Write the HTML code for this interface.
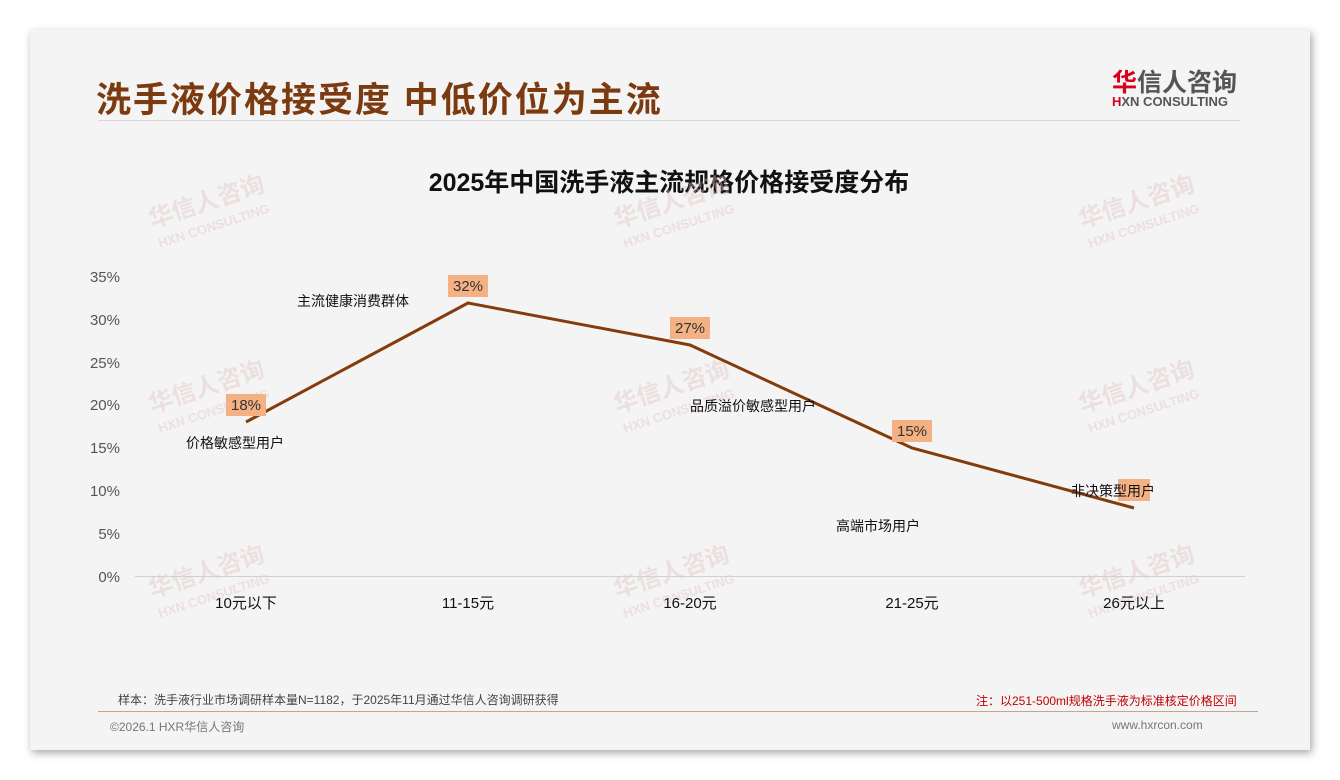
<!DOCTYPE html>
<html><head><meta charset="utf-8"><style>
body{margin:0;width:1340px;height:780px;background:#fff;position:relative;overflow:hidden;font-family:"Liberation Sans","Noto Sans CJK SC",sans-serif}
.card{position:absolute;left:30px;top:30px;width:1280px;height:720px;background:#f4f4f4;box-shadow:2px 3px 8px rgba(0,0,0,.35)}
.t{position:absolute;white-space:nowrap}
</style></head><body>
<div class="card"></div>
<div class="t" style="left:96px;top:72px;font-size:35px;font-weight:bold;color:#7b3a0f;letter-spacing:2px">洗手液价格接受度 中低价位为主流</div>
<div style="position:absolute;left:98px;top:120px;width:1142px;height:1px;background:#d8d8d8"></div>
<div class="t" style="left:1112px;top:63px;font-size:25px;font-weight:bold;color:#555"><span style="color:#d9001b">华</span>信人咨询</div>
<div class="t" style="left:1112px;top:94px;font-size:13px;font-weight:bold;color:#555"><span style="color:#d9001b">H</span>XN CONSULTING</div>
<div class="t" style="left:0;width:1338px;text-align:center;top:163px;font-size:25px;font-weight:bold;color:#111">2025年中国洗手液主流规格价格接受度分布</div>
<svg style="position:absolute;left:0;top:0" width="1340" height="780" font-family="Liberation Sans, Noto Sans CJK SC, sans-serif">
<g fill="#e0c0c0" opacity="0.4" font-weight="bold">
<g font-size="24">
<text transform="translate(152,228) rotate(-18)">华信人咨询</text>
<text transform="translate(617,228) rotate(-18)">华信人咨询</text>
<text transform="translate(1082,228) rotate(-18)">华信人咨询</text>
<text transform="translate(152,413) rotate(-18)">华信人咨询</text>
<text transform="translate(617,413) rotate(-18)">华信人咨询</text>
<text transform="translate(1082,413) rotate(-18)">华信人咨询</text>
<text transform="translate(152,598) rotate(-18)">华信人咨询</text>
<text transform="translate(617,598) rotate(-18)">华信人咨询</text>
<text transform="translate(1082,598) rotate(-18)">华信人咨询</text>
</g>
<g font-size="13">
<text transform="translate(160,248) rotate(-18)">HXN CONSULTING</text>
<text transform="translate(625,248) rotate(-18)">HXN CONSULTING</text>
<text transform="translate(1090,248) rotate(-18)">HXN CONSULTING</text>
<text transform="translate(160,433) rotate(-18)">HXN CONSULTING</text>
<text transform="translate(625,433) rotate(-18)">HXN CONSULTING</text>
<text transform="translate(1090,433) rotate(-18)">HXN CONSULTING</text>
<text transform="translate(160,618) rotate(-18)">HXN CONSULTING</text>
<text transform="translate(625,618) rotate(-18)">HXN CONSULTING</text>
<text transform="translate(1090,618) rotate(-18)">HXN CONSULTING</text>
</g>
</g>
<line x1="135" y1="576.5" x2="1245" y2="576.5" stroke="#d0d0d0"/>
<g font-size="15" fill="#555" text-anchor="end">
<text x="120" y="582">0%</text><text x="120" y="539">5%</text><text x="120" y="496">10%</text><text x="120" y="453">15%</text><text x="120" y="410">20%</text><text x="120" y="368">25%</text><text x="120" y="325">30%</text><text x="120" y="282">35%</text>
</g>
<g font-size="15" fill="#111" text-anchor="middle">
<text x="246" y="608">10元以下</text><text x="468" y="608">11-15元</text><text x="690" y="608">16-20元</text><text x="912" y="608">21-25元</text><text x="1134" y="608">26元以上</text>
</g>
<polyline points="246,422 468,303 690,345 912,448 1134,508" fill="none" stroke="#843c0c" stroke-width="3"/>
<g fill="#f4b183">
<rect x="226" y="394" width="40" height="22"/><rect x="448" y="275" width="40" height="22"/><rect x="670" y="317" width="40" height="22"/><rect x="892" y="420" width="40" height="22"/><rect x="1118" y="479" width="32" height="22"/>
</g>
<g font-size="15" fill="#333" text-anchor="middle">
<text x="246" y="410">18%</text><text x="468" y="291">32%</text><text x="690" y="333">27%</text><text x="912" y="436">15%</text>
</g>
<g font-size="14" fill="#111">
<text x="186" y="448">价格敏感型用户</text><text x="297" y="306">主流健康消费群体</text><text x="690" y="411">品质溢价敏感型用户</text><text x="836" y="531">高端市场用户</text><text x="1071" y="496">非决策型用户</text>
</g>
</svg>
<div class="t" style="left:118px;top:691px;font-size:12px;color:#444">样本：洗手液行业市场调研样本量N=1182，于2025年11月通过华信人咨询调研获得</div>
<div class="t" style="left:976px;top:692px;font-size:12px;color:#c00000">注：以251-500ml规格洗手液为标准核定价格区间</div>
<div style="position:absolute;left:98px;top:711px;width:1160px;height:1px;background:#c9a48a"></div>
<div class="t" style="left:110px;top:718px;font-size:12px;color:#777">©2026.1 HXR华信人咨询</div>
<div class="t" style="left:1112px;top:718px;font-size:12px;color:#777">www.hxrcon.com</div>
</body></html>
